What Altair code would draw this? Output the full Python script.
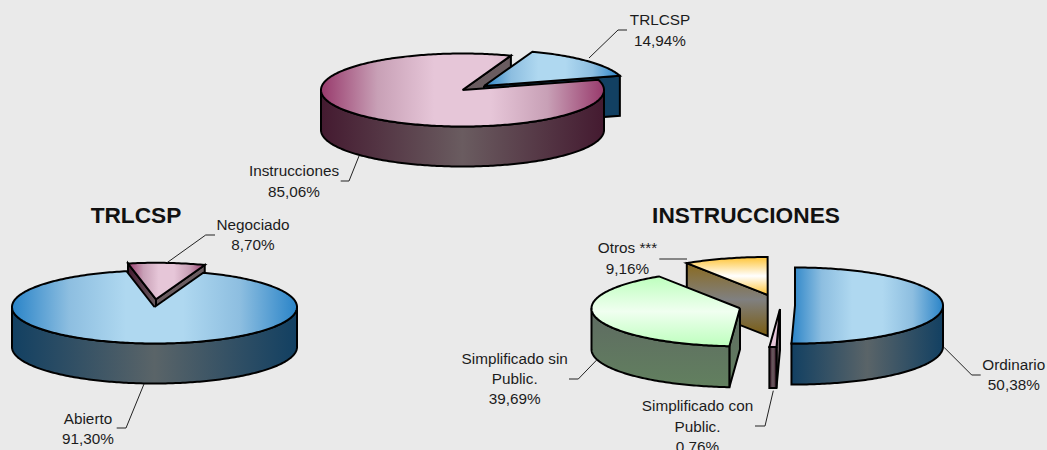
import math
import altair as alt
import pandas as pd

# ---- values ----
top_names = ["TRLCSP", "Instrucciones"]
top_values = [14.94, 85.06]
left_names = ["Abierto", "Negociado"]
left_values = [91.30, 8.70]
right_names = ["Ordinario", "Simplificado con Public.", "Simplificado sin Public.", "Otros ***"]
right_values = [50.38, 0.76, 39.69, 9.16]


def pct(v):
    return f"{v:.2f}".replace(".", ",") + "%"


def grad(colors, horizontal=True):
    n = len(colors) - 1
    return {
        "gradient": "linear",
        "x1": 0, "y1": 0,
        "x2": 1 if horizontal else 0,
        "y2": 0 if horizontal else 1,
        "stops": [{"offset": i / n, "color": c} for i, c in enumerate(colors)],
    }


# ---- styles ----
MAG = dict(top=grad(["#983A6C", "#C8A0B6", "#E6C6D8", "#E6C6D8", "#C8A0B6", "#983A6C"]),
           wall=grad(["#441A30", "#6A5C60", "#441A30"]),
           start=grad(["#441A30", "#6A5C60"]), end="#6A5C60")
BLU = dict(top=grad(["#2A84C8", "#8DBEE0", "#AFD8F0", "#AFD8F0", "#8DBEE0", "#2A84C8"]),
           wall=grad(["#124062", "#5A6468", "#124062"]),
           start="#124062", end="#124062")
GRN = dict(top=grad(["#BDFFBD", "#F0FFF0", "#BDFFBD"], False),
           wall=grad(["#5E6A62", "#62805F"], False),
           start=grad(["#5E6A62", "#62805F"], False), end="#62705F")
YEL = dict(top=grad(["#FFC435", "#FFFFFF", "#FFC435"], False),
           wall="#806A30",
           start=grad(["#8A6A1E", "#808080", "#7A5C10"], False), end="#806A30")
PNK = dict(top=grad(["#E6C6D8", "#E6C6D8"], False),
           wall=grad(["#441A30", "#6A5C60", "#441A30"]),
           start="#6A5C60", end="#6A5C60")

RX1, RY1, DEPTH = 141.5, 36.5, 40
RX2 = 142.5
RX3, RY3, DEPTH3 = 148.5, 38, 41


def angles(values, first):
    out, a = [], first
    for v in values:
        out.append((a, a + v * 3.6))
        a += v * 3.6
    return out


def pt(c, rx, ry, a):
    r = math.radians(a)
    return (c[0] + rx * math.sin(r), c[1] - ry * math.cos(r))


def arc(c, rx, ry, a0, a1):
    n = max(2, int(abs(a1 - a0)) + 1)
    return [pt(c, rx, ry, a0 + (a1 - a0) * i / n) for i in range(n + 1)]


def top_poly(c, rx, ry, a0, a1):
    return [c] + arc(c, rx, ry, a0, a1) + [c]


def drop(points, d):
    return [(x, y + d) for x, y in points]


def wall_poly(c, rx, ry, a0, a1, d):
    lo, hi = max(a0, 90), min(a1, 270)
    if hi <= lo:
        return None
    a = arc(c, rx, ry, lo, hi)
    return a + drop(a[::-1], d) + [a[0]]


def face_poly(c, rx, ry, a, d):
    p = pt(c, rx, ry, a)
    return [c, p, (p[0], p[1] + d), (c[0], c[1] + d), c]


X = alt.Scale(domain=[0, 1047], range=[0, 1047], nice=False, zero=False)
Y = alt.Scale(domain=[0, 450], range=[0, 450], nice=False, zero=False)
enc = dict(x=alt.X("x:Q", scale=X, axis=None), y=alt.Y("y:Q", scale=Y, axis=None))


def poly(points, fill):
    df = pd.DataFrame(points, columns=["x", "y"])
    df["i"] = range(len(df))
    return (alt.Chart(df)
            .mark_line(fill=fill, stroke="#000000", strokeWidth=2, strokeJoin="miter",
                       strokeMiterLimit=6, interpolate="linear")
            .encode(order="i:Q", **enc))


def faces(c, rx, ry, a0, a1, d, st):
    out = []
    s, e = a0 % 360, a1 % 360
    if s > 180:
        out.append(poly(face_poly(c, rx, ry, a0, d), st["start"]))
    if 0 < e < 180:
        out.append(poly(face_poly(c, rx, ry, a1, d), st["end"]))
    return out


def body(c, rx, ry, a0, a1, d, st):
    out = faces(c, rx, ry, a0, a1, d, st)
    w = wall_poly(c, rx, ry, a0, a1, d)
    if w:
        out.append(poly(w, st["wall"]))
    out.append(poly(top_poly(c, rx, ry, a0, a1), st["top"]))
    return out


layers = []

# --- top pie
(t0, t1), (i0, i1) = angles(top_values, 20)
ci, ct = (462.5, 90), (484, 86)
layers += faces(ci, RX1, RY1, i0, i1, DEPTH, MAG)
layers += body(ct, RX1, RY1, t0, t1, DEPTH, BLU)
layers.append(poly(wall_poly(ci, RX1, RY1, i0, i1, DEPTH), MAG["wall"]))
layers.append(poly(top_poly(ci, RX1, RY1, i0, i1), MAG["top"]))

# --- left pie
(a0, a1), (n0, n1) = angles(left_values, 20)
layers += body((156, 299.3), RX2, RY1, n0, n1, DEPTH, MAG)
layers += body((154.5, 307), RX2, RY1, a0, a1, DEPTH, BLU)

# --- right pie
(o0, o1), (c0, c1), (s0, s1), (x0, x1) = angles(right_values, 0)
layers += body((767.7, 295), RX3, RY3, x0, x1, DEPTH3, YEL)
layers += body((740, 308.3), RX3, RY3, s0, s1, DEPTH3, GRN)
layers += body((780, 309), RX3, RY3, c0, c1, DEPTH3, PNK)
layers += body((795, 305.5), RX3 - 0.5, RY3, o0, o1, DEPTH3, BLU)

# --- leader lines
leaders = [
    [(589, 58), (618, 30), (627, 30)],
    [(359, 156), (349, 181), (340.7, 181)],
    [(167, 262.7), (205.7, 235), (215, 235)],
    [(144, 384), (126, 428), (116.7, 428)],
    [(659.3, 259), (687, 259)],
    [(596.7, 360), (578.3, 379), (569, 379)],
    [(773.3, 390.7), (765, 426), (755, 426)],
    [(944, 347.3), (971.7, 375), (980.7, 375)],
]
rows = []
for k, l in enumerate(leaders):
    for j, (x, y) in enumerate(l):
        rows.append({"k": k, "j": j, "x": x, "y": y})
layers.append(alt.Chart(pd.DataFrame(rows))
              .mark_line(stroke="#222222", strokeWidth=1)
              .encode(detail="k:N", order="j:Q", **enc))

# --- labels
labels = [
    (660, [25, 46], ["TRLCSP", pct(top_values[0])]),
    (294, [176, 196.5], ["Instrucciones", pct(top_values[1])]),
    (253, [230, 250], ["Negociado", pct(left_values[1])]),
    (88, [424, 444], ["Abierto", pct(left_values[0])]),
    (627.5, [252.5, 273.5], ["Otros ***", pct(right_values[3])]),
    (514.7, [364, 384, 404], ["Simplificado sin", "Public.", pct(right_values[2])]),
    (697.5, [411, 431.5, 452], ["Simplificado con", "Public.", pct(right_values[1])]),
    (1013.8, [370, 390], ["Ordinario", pct(right_values[0])]),
]
rows = []
for x, ys, texts in labels:
    for y, t in zip(ys, texts):
        rows.append({"x": x, "y": y, "t": t})
layers.append(alt.Chart(pd.DataFrame(rows))
              .mark_text(font="Liberation Sans", fontSize=15.3, color="#1C1C1C",
                         align="center", baseline="alphabetic")
              .encode(text="t:N", **enc))

titles = pd.DataFrame([{"x": 136, "y": 223, "t": "TRLCSP"},
                       {"x": 746, "y": 223, "t": "INSTRUCCIONES"}])
layers.append(alt.Chart(titles)
              .mark_text(font="Liberation Sans", fontSize=22.7, fontWeight="bold",
                         color="#111111", align="center", baseline="alphabetic")
              .encode(text="t:N", **enc))

chart = (alt.layer(*layers)
         .properties(width=1047, height=450, background="#EAEAEA", padding=0,
                     autosize=alt.AutoSizeParams(type="none"))
         .configure_view(stroke=None))

chart.save("out.html", embed_options={
    "renderer": "svg", "actions": False,
    "defaultStyle": "html,body{margin:0;background:#EAEAEA;overflow:hidden}",
})
